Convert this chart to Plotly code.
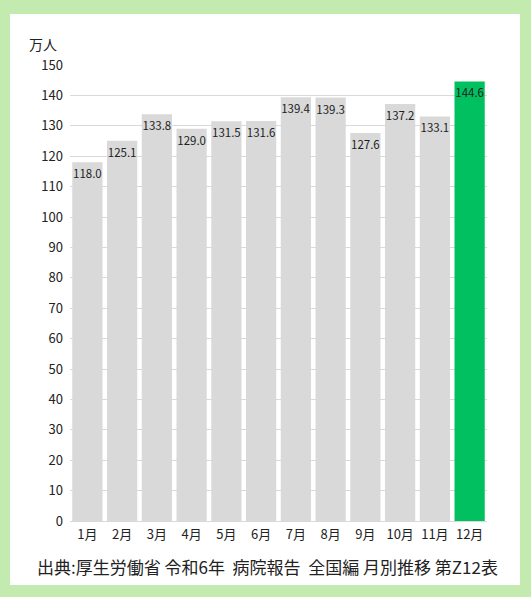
import plotly.graph_objects as go

months = ["1月", "2月", "3月", "4月", "5月", "6月", "7月", "8月", "9月", "10月", "11月", "12月"]
values = [118.0, 125.1, 133.8, 129.0, 131.5, 131.6, 139.4, 139.3, 127.6, 137.2, 133.1, 144.6]
highlight = "12月"
y_ticks = list(range(0, 151, 10))
unit_label = "万人"
source_text = "出典:厚生労働省 令和6年  病院報告  全国編 月別推移 第Z12表"

FONT = "Noto Sans CJK JP"
W, H = 531, 597
ML, MR, MT, MB = 70, 44, 65, 76
PW, PH = W - ML - MR, H - MT - MB

colors = ["#00c060" if m == highlight else "#d9d9d9" for m in months]

fig = go.Figure(go.Bar(
    x=months,
    y=values,
    marker=dict(color=colors, line=dict(width=0)),
    text=[f"{v:.1f}" for v in values],
    textposition="inside",
    insidetextanchor="end",
    textangle=0,
    textfont=dict(family=FONT, size=11.5, color="#222222"),
    hoverinfo="skip",
))

def px_x(p):
    return (p - ML) / PW

def px_y(p):
    return (H - MB - p) / PH

fig.add_shape(type="rect", xref="paper", yref="paper",
              x0=px_x(10), x1=px_x(520), y0=px_y(585), y1=px_y(14),
              fillcolor="white", line=dict(width=0), layer="below")

fig.add_annotation(text=unit_label, xref="paper", yref="paper",
                   x=px_x(27), y=px_y(44), xanchor="left", yanchor="middle",
                   showarrow=False, font=dict(family=FONT, size=14, color="#222222"))
fig.add_annotation(text=source_text, xref="paper", yref="paper",
                   x=px_x(267), y=px_y(566), xanchor="center", yanchor="middle",
                   showarrow=False, font=dict(family=FONT, size=17, color="#222222"))

fig.update_layout(
    width=W, height=H,
    margin=dict(l=ML, r=MR, t=MT, b=MB, pad=0),
    paper_bgcolor="#c3ebb0",
    plot_bgcolor="rgba(0,0,0,0)",
    bargap=0.13,
    showlegend=False,
    uniformtext=dict(minsize=11.5, mode="show"),
    font=dict(family=FONT, color="#222222"),
)
fig.update_xaxes(
    tickfont=dict(family=FONT, size=13, color="#222222"),
    showgrid=False, showline=False, ticks="", ticklabelstandoff=4,
    fixedrange=True,
)
fig.update_yaxes(
    range=[0, 150], tickvals=y_ticks,
    tickfont=dict(family=FONT, size=13, color="#222222"),
    showgrid=True, gridcolor="#d9d9d9", gridwidth=1,
    zeroline=True, zerolinecolor="#d9d9d9", zerolinewidth=1,
    showline=False, ticks="", ticklabelstandoff=6,
    fixedrange=True,
)

fig.write_html(
    "out.html",
    config={"displayModeBar": False},
    post_script="document.body.style.margin='0';document.body.style.overflow='hidden';",
)
